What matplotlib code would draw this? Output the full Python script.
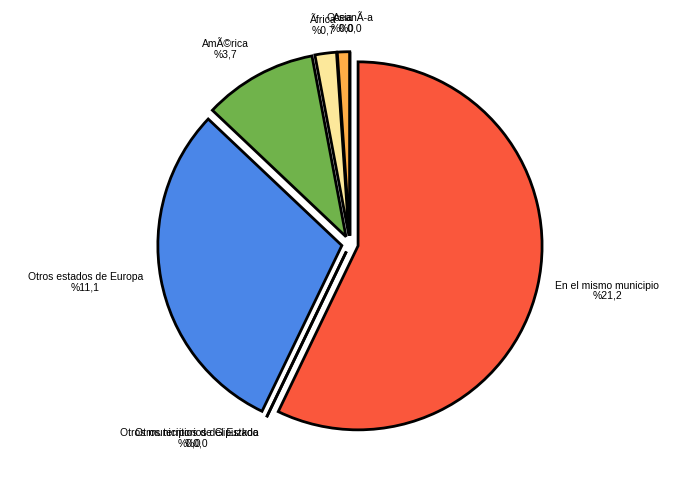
import matplotlib
matplotlib.use("Agg")
import matplotlib.pyplot as plt

categories = [
    "En el mismo municipio",
    "Otros municipios de Gipuzkoa",
    "Otros territorios del Estado",
    "Otros estados de Europa",
    "AmÃ©rica",
    "Ãfrica",
    "Asia",
    "OceanÃ\u00ada",
]
values = [21.2, 0.0, 0.0, 11.1, 3.7, 0.7, 0.4, 0.0]
shown = ["21,2", "0,0", "0,0", "11,1", "3,7", "0,7", "0,0", "0,0"]
colors = ["#FA573C", "#FA573C", "#4A86E8", "#4A86E8", "#70B34B", "#FCE89B", "#FFAD46", "#FFAD46"]

labels = [f"{c}\n%{s}" for c, s in zip(categories, shown)]

plt.rcParams['font.family'] = ['Liberation Sans', 'DejaVu Sans']

fig = plt.figure(figsize=(7, 5), dpi=100)
ax = fig.add_axes([0, 0, 1, 1])
R = 184.0
wedges, texts = ax.pie(
    values, labels=labels, colors=colors, startangle=90, counterclock=False,
    explode=[0.045] * len(values), labeldistance=1.1,
    wedgeprops=dict(edgecolor="black", linewidth=2.0, joinstyle="miter"),
    textprops=dict(fontsize=7.5, linespacing=1.0),
    normalize=True,
)
for t in texts:
    x, y = t.get_position()
    if abs(x) < 0.2:
        t.set_horizontalalignment("center")
    if y > 0.5:
        t.set_verticalalignment("bottom")
    elif y < -0.5:
        t.set_verticalalignment("top")
        t.set_position((x, y + 0.03))
    else:
        t.set_verticalalignment("center")
    t.set_multialignment("center")

ax.set_xlim(-350 / R, 350 / R)
ax.set_ylim(-256 / R, 244 / R)
ax.set_aspect("equal")
ax.axis("off")
fig.savefig("out.png", dpi=100)
